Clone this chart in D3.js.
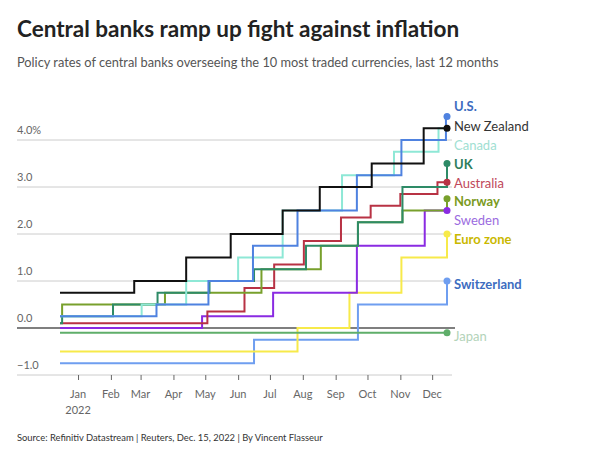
<!DOCTYPE html><html><head><meta charset="utf-8">
<script src="https://cdn.jsdelivr.net/npm/d3@7"></script>
<style>body{margin:0;background:#fff;font-family:Lato,sans-serif}</style></head><body>
<svg id="c" width="600" height="454"></svg>
<script>
const startDate="2021-12-15", endDate="2022-12-15";
const yTicks=[-1,0,1,2,3,4];
const months=["Jan","Feb","Mar","Apr","May","Jun","Jul","Aug","Sep","Oct","Nov","Dec"];
const switzerland=[["2021-12-15",-0.75],["2022-06-16",-0.25],["2022-09-22",0.5],["2022-12-15",1.0]];
const euro=[["2021-12-15",-0.5],["2022-07-27",0],["2022-09-14",0.75],["2022-11-02",1.5],["2022-12-15",2.0]];
const japan=[["2021-12-15",-0.1],["2022-12-15",-0.1]];
const sweden=[["2021-12-15",0],["2022-04-28",0.25],["2022-07-04",0.75],["2022-09-21",1.75],["2022-11-24",2.5],["2022-12-15",2.5]];
const australia=[["2021-12-15",0.1],["2022-05-03",0.35],["2022-06-07",0.85],["2022-07-05",1.35],["2022-08-02",1.85],["2022-09-06",2.35],["2022-10-04",2.6],["2022-11-01",2.85],["2022-12-06",3.1],["2022-12-15",3.1]];
const norway=[["2021-12-15",0.25],["2021-12-17",0.5],["2022-03-24",0.75],["2022-06-23",1.25],["2022-08-18",1.75],["2022-09-22",2.25],["2022-11-03",2.5],["2022-12-15",2.75]];
const uk=[["2021-12-15",0.1],["2021-12-17",0.25],["2022-02-03",0.5],["2022-03-17",0.75],["2022-05-05",1.0],["2022-06-16",1.25],["2022-08-04",1.75],["2022-09-22",2.25],["2022-11-03",3.0],["2022-12-15",3.5]];
const canada=[["2021-12-15",0.25],["2022-03-02",0.5],["2022-04-13",1.0],["2022-06-01",1.5],["2022-07-13",2.5],["2022-09-07",3.25],["2022-10-26",3.75],["2022-12-07",4.25],["2022-12-15",4.25]];
const us=[["2021-12-15",0.25],["2022-03-16",0.5],["2022-05-04",1.0],["2022-06-15",1.75],["2022-07-27",2.5],["2022-09-21",3.25],["2022-11-02",4.0],["2022-12-14",4.5],["2022-12-15",4.5]];
const nz=[["2021-12-15",0.75],["2022-02-23",1.0],["2022-04-13",1.5],["2022-05-25",2.0],["2022-07-13",2.5],["2022-08-17",3.0],["2022-10-05",3.5],["2022-11-23",4.25],["2022-12-15",4.25]];

const series=[
 {name:"Switzerland",data:switzerland,c:"#6f9ef0",lc:"#3d6cc0",b:true,dot:true,ly:285},
 {name:"Euro zone",data:euro,c:"#f7ea4a",lc:"#c9b800",b:true,dot:true,ly:240},
 {name:"Japan",data:japan,c:"#5fae6a",lc:"#b3d3b9",b:false,dot:true,ly:337},
 {name:"Sweden",data:sweden,c:"#8a2be2",lc:"#9b6ce0",b:false,dot:true,ly:221},
 {name:"Australia",data:australia,c:"#b83244",lc:"#c0485a",b:false,dot:true,ly:184},
 {name:"Norway",data:norway,c:"#78a02c",lc:"#7a9a22",b:true,dot:true,ly:202},
 {name:"UK",data:uk,c:"#2e8b67",lc:"#2e7d5c",b:true,dot:true,ly:165},
 {name:"Canada",data:canada,c:"#8ee8d6",lc:"#9fe0d2",b:false,dot:false,ly:146},
 {name:"U.S.",data:us,c:"#4f82e0",lc:"#3d6cc0",b:true,dot:true,ly:107},
 {name:"New Zealand",data:nz,c:"#111",lc:"#333",b:false,dot:true,ly:127}
];
const svg=d3.select("#c");
const p=d3.timeParse("%Y-%m-%d");
const x=d3.scaleTime().domain([p(startDate),p(endDate)]).range([60,447]);
const y=d3.scaleLinear().domain([-1,4]).range([375,140]);
svg.append("text").attr("x",17).attr("y",37).attr("font-size",22.5).attr("font-weight",700).attr("fill","#222").text("Central banks ramp up fight against inflation");
svg.append("text").attr("x",17).attr("y",67).attr("font-size",12.8).attr("fill","#555").text("Policy rates of central banks overseeing the 10 most traded currencies, last 12 months");
yTicks.forEach(t=>{
 svg.append("line").attr("x1",17).attr("x2",t===0?455:452).attr("y1",y(t)).attr("y2",y(t)).attr("stroke",t===0?"#555":"#ccc").attr("stroke-width",t===0?1.3:1);
 svg.append("text").attr("x",17).attr("y",y(t)-6).attr("font-size",11).attr("fill","#666").text(t===4?"4.0%":t<0?"\u22121.0":t.toFixed(1));
});
const xa=svg.append("g").attr("transform","translate(0,375)").call(d3.axisBottom(x).ticks(d3.timeMonth.every(1)).tickSize(5).tickFormat(""));
xa.select(".domain").remove();
xa.selectAll("line").attr("stroke","#666");
const mt=d3.timeMonth.range(p("2022-01-01"),p("2022-12-02"));
mt.forEach((d,i)=>{
 svg.append("text").attr("x",x(d)).attr("y",398).attr("text-anchor","middle").attr("font-size",11).attr("fill","#666").text(months[i]);
});
svg.append("text").attr("x",x(mt[0])).attr("y",414).attr("text-anchor","middle").attr("font-size",11).attr("fill","#666").text("2022");
const line=d3.line().x(d=>x(p(d[0]))).y(d=>y(d[1])).curve(d3.curveStepAfter);
series.forEach(s=>{
 svg.append("path").attr("d",line(s.data)).attr("fill","none").attr("stroke",s.c).attr("stroke-width",2);
});
series.forEach(s=>{
 const l=s.data[s.data.length-1];
 if(s.dot) svg.append("circle").attr("cx",x(p(l[0]))).attr("cy",y(l[1])).attr("r",3.5).attr("fill",s.c);
 svg.append("text").attr("x",454).attr("y",s.ly+4).attr("font-size",13).attr("font-weight",s.b?700:400).attr("fill",s.lc).text(s.name);
});
svg.append("text").attr("x",17).attr("y",441).attr("font-size",9.4).attr("fill","#333").text("Source: Refinitiv Datastream | Reuters, Dec. 15, 2022 | By Vincent Flasseur");
</script></body></html>
